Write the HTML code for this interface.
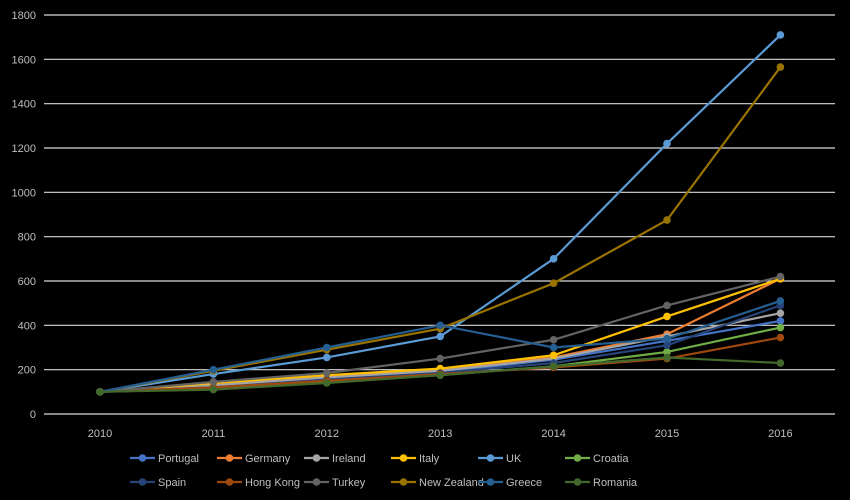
<!DOCTYPE html>
<html><head><meta charset="utf-8"><style>
body{margin:0;background:#000;}
svg{display:block;font-family:"Liberation Sans",sans-serif;}
</style></head><body>
<svg id="chart" width="850" height="500" xmlns="http://www.w3.org/2000/svg">
<rect width="850" height="500" fill="#000"/>
<g id="grid"></g><g id="lines"></g><g id="legend"></g>
</svg>
<script>
const years=["2010","2011","2012","2013","2014","2015","2016"];
const yTicks=[0,200,400,600,800,1000,1200,1400,1600,1800];
const seriesNames=["Portugal","Germany","Ireland","Italy","UK","Croatia","Spain","Hong Kong","Turkey","New Zealand","Greece","Romania"];
const colors=["#4472C4","#ED7D31","#A5A5A5","#FFC000","#5B9BD5","#70AD47","#264478","#9E480E","#636363","#997300","#255E91","#43682B"];
const portugal=[100,125,160,190,245,330,420];
const germany=[100,140,170,200,255,360,610];
const ireland=[100,130,165,195,250,350,455];
const italy=[100,140,175,205,265,440,610];
const uk=[100,180,255,350,700,1220,1710];
const croatia=[100,115,145,175,215,280,390];
const spain=[100,120,155,185,230,310,490];
const hongKong=[100,120,150,180,210,250,345];
const turkey=[100,145,185,250,335,490,620];
const newZealand=[100,195,290,385,590,875,1565];
const greece=[100,200,300,400,300,340,510];
const romania=[100,110,140,175,215,255,230];
const seriesValues=[portugal,germany,ireland,italy,uk,croatia,spain,hongKong,turkey,newZealand,greece,romania];
const NS="http://www.w3.org/2000/svg";
const x0=100,dx=113.4,y0=414,yTop=15,yMax=1800;
const xs=i=>x0+i*dx;
const ys=v=>y0-(v/yMax)*(y0-yTop);
function mk(t,a,p){const e=document.createElementNS(NS,t);for(const k in a)e.setAttribute(k,a[k]);p.appendChild(e);return e;}
const grid=document.getElementById('grid');
yTicks.forEach(t=>{
  const l=mk('line',{x1:44,x2:835,y1:ys(t),y2:ys(t),stroke:'#d9d9d9','stroke-width':1.2},grid);
  
  
  const tx=mk('text',{x:36,y:ys(t)+4,'text-anchor':'end','font-size':11,fill:'#bfbfbf'},grid);
  tx.textContent=t;
  
  
});
years.forEach((y,i)=>{
  const tx=mk('text',{x:xs(i),y:437,'text-anchor':'middle','font-size':11,fill:'#bfbfbf'},grid);
  tx.textContent=y;
  
  
});
const lines=document.getElementById('lines');
seriesValues.forEach((vals,s)=>{
  const g=mk('g',{},lines);
  
  
  mk('polyline',{points:vals.map((v,i)=>xs(i)+','+ys(v)).join(' '),fill:'none',stroke:colors[s],'stroke-width':2.2},g);
  vals.forEach((v,i)=>{
    const c=mk('circle',{cx:xs(i),cy:ys(v),r:3.8,fill:colors[s]},g);
    
    
  });
});
const legend=document.getElementById('legend');
seriesNames.forEach((n,s)=>{
  const col=s%6,row=Math.floor(s/6);
  const lx=130+col*87,ly=458+row*24;
  const g=mk('g',{},legend);
  
  
  mk('line',{x1:lx,x2:lx+25,y1:ly,y2:ly,stroke:colors[s],'stroke-width':2.2},g);
  mk('circle',{cx:lx+12.5,cy:ly,r:3.8,fill:colors[s]},g);
  const t=mk('text',{x:lx+28,y:ly+4,'font-size':11,fill:'#bfbfbf'},g);
  t.textContent=n;
});
</script>
</body></html>
